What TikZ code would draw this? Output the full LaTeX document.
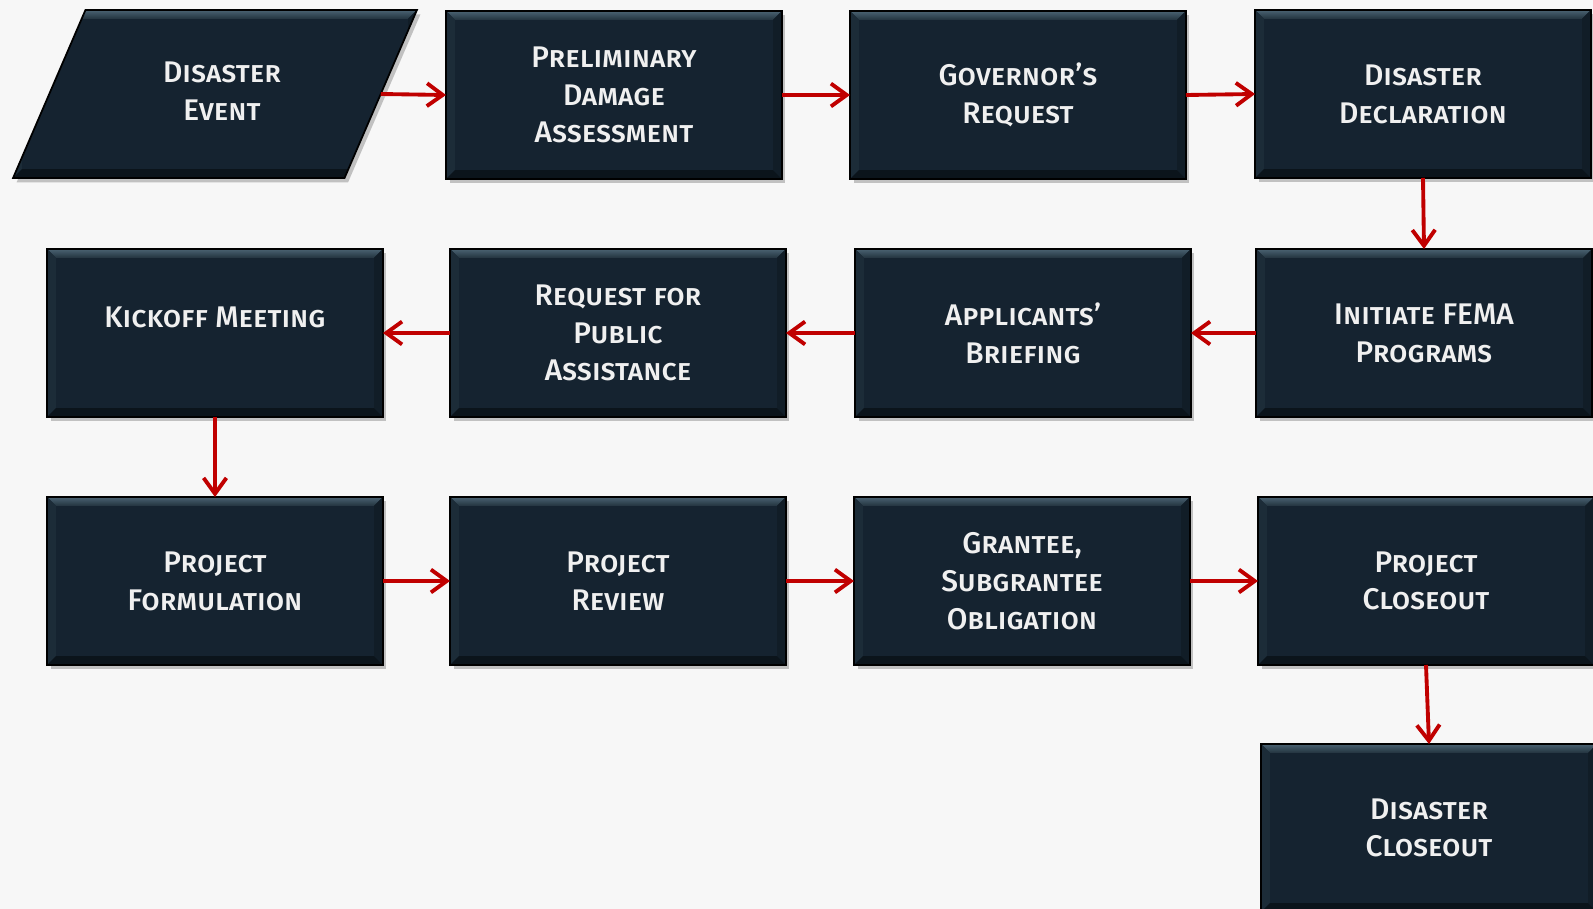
\documentclass[tikz,border=0pt]{standalone}
\usepackage{fontspec}
\setmainfont{Fira Sans}[BoldFont={Fira Sans Medium}]
\usetikzlibrary{arrows.meta,shapes.geometric,shadows}
\definecolor{paper}{HTML}{F7F7F7}
\definecolor{navy}{HTML}{152330}
\definecolor{bevlight}{HTML}{4A6272}
\definecolor{bevmid}{HTML}{23343F}
\definecolor{bevside}{HTML}{1C2C38}
\definecolor{bevright}{HTML}{111D27}
\definecolor{bevdark}{HTML}{0B141B}
\definecolor{flowred}{HTML}{C00000}
\definecolor{slidenum}{HTML}{2F4E6E}
\newcommand\bevw{5pt}
\tikzset{
  bevel/.style={path picture={
    \coordinate (nw) at (path picture bounding box.north west);
    \coordinate (ne) at (path picture bounding box.north east);
    \coordinate (sw) at (path picture bounding box.south west);
    \coordinate (se) at (path picture bounding box.south east);
    \shade[top color=bevlight,bottom color=bevmid] (nw) -- (ne) -- ([shift={(-\bevw,-\bevw)}]ne) -- ([shift={(\bevw,-\bevw)}]nw) -- cycle;
    \fill[bevside] (nw) -- ([shift={(\bevw,-\bevw)}]nw) -- ([shift={(\bevw,\bevw)}]sw) -- (sw) -- cycle;
    \fill[bevright] (ne) -- ([shift={(-\bevw,-\bevw)}]ne) -- ([shift={(-\bevw,\bevw)}]se) -- (se) -- cycle;
    \fill[bevdark] (sw) -- ([shift={(\bevw,\bevw)}]sw) -- ([shift={(-\bevw,\bevw)}]se) -- (se) -- cycle;
  }},
  box/.style={rectangle, fill=navy, draw=black, line width=1pt,
    minimum width=6.72cm, minimum height=3.36cm, inner sep=0pt, outer sep=0pt,
    align=center, text=white!94!black, bevel,
    font=\bfseries\scshape\fontsize{17}{21.5}\selectfont,
    drop shadow={shadow xshift=2pt, shadow yshift=-2.5pt, opacity=0.45}},
  event/.style={box, trapezium, trapezium left angle=64, trapezium right angle=116,
    trapezium stretches=true, minimum width=8.08cm},
  flow/.style={-{Straight Barb[length=9pt,width=13pt]}, line width=2.2pt, flowred},
}
\begin{document}
\begin{tikzpicture}[x=0.02cm, y=-0.02cm]
\useasboundingbox (0,0) rectangle (1593,909);
\clip (0,0) rectangle (1593,909);
\fill[paper] (0,0) rectangle (1593,909);
\node[event] (ev) at (215,94) {\hspace*{8pt}\raisebox{4pt}{\begin{tabular}{@{}c@{}}Disaster\\Event\end{tabular}}};
\node[box] (pda) at (614,95) {Preliminary\\Damage\\Assessment};
\node[box] (gov) at (1018,95) {Governor’s\\Request};
\node[box] (decl) at (1423,94) {Disaster\\Declaration};
\node[box] (kick) at (215,333) {\raisebox{18pt}{Kickoff Meeting}};
\node[box] (rpa) at (618,333) {Request for\\Public\\Assistance};
\node[box] (brief) at (1023,333) {Applicants’\\Briefing};
\node[box] (init) at (1424,333) {Initiate FEMA\\Programs};
\node[box] (form) at (215,581) {Project\\Formulation};
\node[box] (review) at (618,581) {Project\\Review};
\node[box] (grant) at (1022,581) {Grantee,\\Subgrantee\\Obligation};
\node[box] (pclose) at (1426,581) {Project\\Closeout};
\node[box] (dclose) at (1429,828) {Disaster\\Closeout};
\node[anchor=east, text=slidenum, font=\fontsize{10.5}{12}\selectfont] (pg) at (3,861) {5};
\draw[flow] (ev.east) -- (pda.west);
\draw[flow] (pda.east) -- (gov.west);
\draw[flow] (gov.east) -- (decl.west);
\draw[flow] (decl.south) -- (init.north);
\draw[flow] (init.west) -- (brief.east);
\draw[flow] (brief.west) -- (rpa.east);
\draw[flow] (rpa.west) -- (kick.east);
\draw[flow] (kick.south) -- (form.north);
\draw[flow] (form.east) -- (review.west);
\draw[flow] (review.east) -- (grant.west);
\draw[flow] (grant.east) -- (pclose.west);
\draw[flow] (pclose.south) -- (dclose.north);
\end{tikzpicture}
\end{document}
